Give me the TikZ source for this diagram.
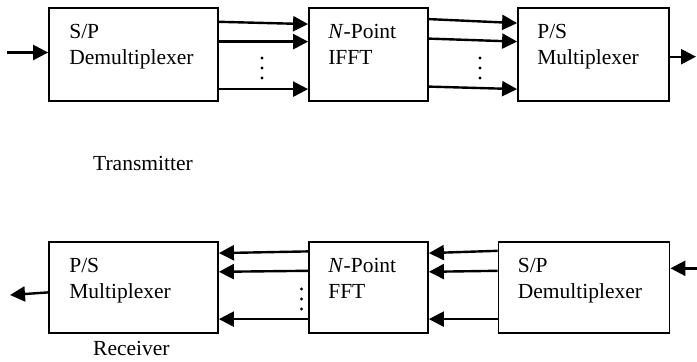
\documentclass[tikz,border=0pt]{standalone}
\usepackage{fontspec}
\setmainfont{Liberation Serif}
\usetikzlibrary{arrows.meta,calc}
\begin{document}
\begin{tikzpicture}[x=1bp,y=-1bp,
  blk/.style={draw,line width=1.8bp,inner sep=0pt,minimum width=169bp,minimum height=93bp},
  midblk/.style={blk,minimum width=119bp},
  lbl/.style={font=\fontsize{21.5bp}{26bp}\selectfont,align=left,inner sep=0pt,anchor=north west},
  caption/.style={font=\fontsize{21.5bp}{26bp}\selectfont,inner sep=0pt},
  sig/.style={line width=2.4bp,-{Triangle[length=15bp,width=15bp]}},
  dotmark/.style={fill=black}]
\useasboundingbox (0,0) rectangle (697,361);

% ---- transmitter chain ----
\node[blk]    (sp1)   at (133.5,54.5) {};
\node[midblk] (ifft)  at (368.5,54.5) {};
\node[blk,minimum width=151bp] (ps1) at (593.5,54.5) {};
\node[lbl] at ($(sp1.north west)+(21,17)$) {S/P\\Demultiplexer};
\node[lbl] at ($(ifft.north west)+(20,17)$) {\textit{N}-Point\\IFFT};
\node[lbl] at ($(ps1.north west)+(20,17)$) {P/S\\Multiplexer};

\coordinate (tin) at (7,52.5);
\coordinate (tout) at (696,56.7);
\draw[sig] (tin) -- (tin -| sp1.west);
\draw[sig] ($(sp1.north east)+(0,14.7)$) -- ($(ifft.north west)+(0,17)$);
\draw[sig] ($(sp1.north east)+(0,34.5)$) -- ($(ifft.north west)+(0,34.5)$);
\draw[sig] ($(sp1.north east)+(0,82)$) -- ($(ifft.north west)+(0,82)$);
\draw[sig] ($(ifft.north east)+(0,12)$) -- ($(ps1.north west)+(0,16)$);
\draw[sig] ($(ifft.north east)+(0,31.5)$) -- ($(ps1.north west)+(0,34.5)$);
\draw[sig] ($(ifft.north east)+(0,79.5)$) -- ($(ps1.north west)+(0,82)$);
\draw[sig] (tout -| ps1.east) -- (tout);

\foreach \yy in {58,68,78} {
  \fill[dotmark] (262,\yy) circle (1.7bp);
  \fill[dotmark] (480,\yy) circle (1.7bp);
}

\node[caption,anchor=base west] (txlbl) at (93,170) {Transmitter};

% ---- receiver chain ----
\node[blk,minimum height=91bp]    (ps2)  at (133.5,287.5) {};
\node[midblk,minimum height=91bp] (fft)  at (368.5,287.5) {};
\node[blk,minimum width=171bp,minimum height=91bp] (sp2) at (584,287.5) {};
\node[lbl] at ($(ps2.north west)+(21,17)$) {P/S\\Multiplexer};
\node[lbl] at ($(fft.north west)+(20,17)$) {\textit{N}-Point\\FFT};
\node[lbl] at ($(sp2.north west)+(20,17)$) {S/P\\Demultiplexer};

\coordinate (rin) at (697,268.3);
\coordinate (rout) at (10,295);
\draw[sig] (rin) -- (rin -| sp2.east);
\draw[sig] ($(sp2.north west)+(0,9.7)$) -- ($(fft.north east)+(0,12)$);
\draw[sig] ($(sp2.north west)+(0,29.7)$) -- ($(fft.north east)+(0,30.7)$);
\draw[sig] ($(sp2.north west)+(0,78)$) -- ($(fft.north east)+(0,78)$);
\draw[sig] ($(fft.north west)+(0,10.3)$) -- ($(ps2.north east)+(0,12)$);
\draw[sig] ($(fft.north west)+(0,29.7)$) -- ($(ps2.north east)+(0,30.7)$);
\draw[sig] ($(fft.north west)+(0,78)$) -- ($(ps2.north east)+(0,78)$);
\draw[sig] ($(ps2.north west)+(0,51.3)$) -- (rout);

\foreach \yy in {289,299,309} {
  \fill[dotmark] (301.5,\yy) circle (1.7bp);
}

\node[caption,anchor=base west] (rxlbl) at (93,355) {Receiver};
\end{tikzpicture}
\end{document}
